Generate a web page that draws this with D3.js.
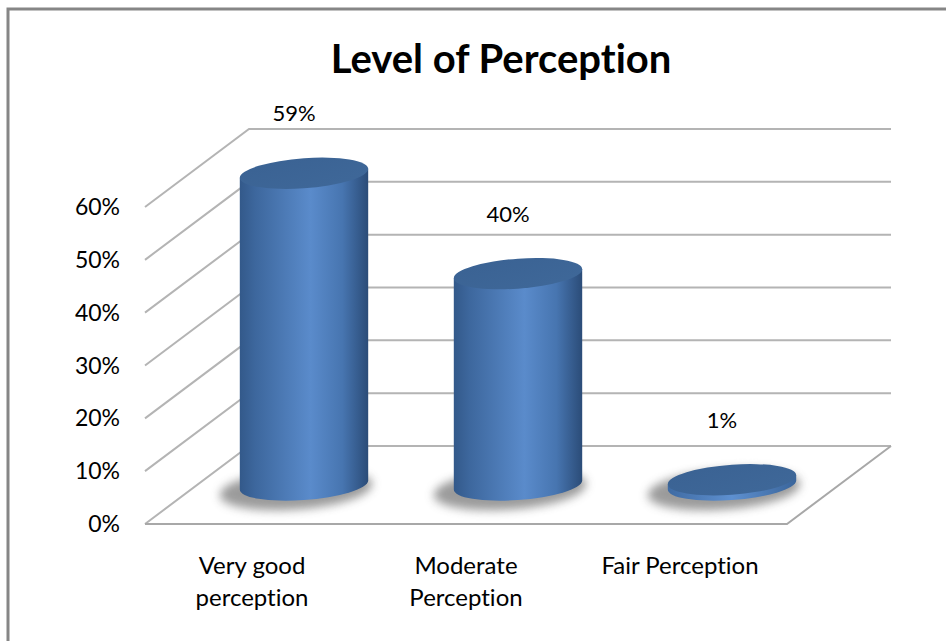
<!DOCTYPE html>
<html>
<head>
<meta charset="utf-8">
<script src="https://cdn.jsdelivr.net/npm/d3@7"></script>
<style>
  html, body { margin: 0; padding: 0; background: #fff; }
  svg { display: block; font-family: Lato, "Open Sans", sans-serif; font-variant-ligatures: none; }
</style>
</head>
<body>
<svg id="chart" width="946" height="641"></svg>
<script>
// chart data
const categories = ['Very good perception', 'Moderate Perception', 'Fair Perception'];
const categoryLines = [['Very good', 'perception'], ['Moderate', 'Perception'], ['Fair Perception']];
const values = [0.59, 0.40, 0.01];
const valueLabels = ['59%', '40%', '1%'];
const tickValues = [0, 0.1, 0.2, 0.3, 0.4, 0.5, 0.6];
const title = 'Level of Perception';

const svg = d3.select('#chart');
const W = 946, H = 641;

// outer frame (right & bottom edges fall outside the picture)
svg.append('rect')
  .attr('x', 8).attr('y', 9)
  .attr('width', W + 20).attr('height', H + 20)
  .attr('fill', '#fff')
  .attr('stroke', '#868686')
  .attr('stroke-width', 3);

// oblique 3D: depth offset of the back wall
const depthX = 104, depthY = -78;

const x = d3.scaleBand()
  .domain(categories)
  .range([145, 787]);

const y = d3.scaleLinear()
  .domain([0, 0.6])
  .range([524, 207]);

const defs = svg.append('defs');

// cylinder side shading
const bodyGrad = defs.append('linearGradient')
  .attr('id', 'bodyGrad')
  .attr('x1', '0%').attr('x2', '100%').attr('y1', '0%').attr('y2', '0%');
[[0, '#33598a'], [0.12, '#3d679d'], [0.55, '#5a8bcb'], [0.8, '#4775b0'], [1, '#2b4c78']]
  .forEach(s => bodyGrad.append('stop').attr('offset', s[0]).attr('stop-color', s[1]));

const topGrad = defs.append('linearGradient')
  .attr('id', 'topGrad')
  .attr('x1', '0%').attr('x2', '100%').attr('y1', '0%').attr('y2', '100%');
[[0, '#3a6293'], [1, '#3f6899']]
  .forEach(s => topGrad.append('stop').attr('offset', s[0]).attr('stop-color', s[1]));

const rimGrad = defs.append('linearGradient')
  .attr('id', 'rimGrad')
  .attr('x1', '0%').attr('x2', '100%');
[[0, '#3f6ba3'], [0.5, '#5e90d0'], [1, '#3a659b']]
  .forEach(s => rimGrad.append('stop').attr('offset', s[0]).attr('stop-color', s[1]));

defs.append('filter').attr('id', 'shadowBlur')
  .attr('x', '-50%').attr('y', '-100%').attr('width', '200%').attr('height', '300%')
  .append('feGaussianBlur').attr('stdDeviation', 5);

defs.append('filter').attr('id', 'soft')
  .append('feGaussianBlur').attr('stdDeviation', 0.5);

// gridlines: left side wall + back wall
const grid = svg.append('g')
  .attr('fill', 'none')
  .attr('stroke', '#b4b4b4')
  .attr('stroke-width', 2)
  .attr('filter', 'url(#soft)');

const x0 = x.range()[0], x1 = x.range()[1];

grid.selectAll('path.grid')
  .data(tickValues)
  .join('path')
  .attr('class', 'grid')
  .attr('d', t => `M${x0},${y(t)} L${x0 + depthX},${y(t) + depthY} L${x1 + depthX},${y(t) + depthY}`);

// floor outline
grid.append('path')
  .attr('stroke', '#a8a8a8')
  .attr('d', `M${x0},${y(0)} L${x1},${y(0)} L${x1 + depthX},${y(0) + depthY}`);

// y tick labels
svg.append('g')
  .selectAll('text')
  .data(tickValues)
  .join('text')
  .attr('x', 120)
  .attr('y', d => y(d))
  .attr('dy', '0.35em')
  .attr('text-anchor', 'end')
  .attr('font-size', 23)
  .attr('fill', '#000')
  .text(d => d3.format('.0%')(d));

// cylinders, sitting at mid depth
const rx = x.bandwidth() * 0.3;
const ry = 15;
const baseY = y(0) + depthY / 2;
const h = v => y(0) - y(v);

const bars = svg.append('g')
  .selectAll('g.bar')
  .data(categories.map((c, i) => ({ c, v: values[i], label: valueLabels[i] })))
  .join('g')
  .attr('class', 'bar')
  .attr('transform', d => `translate(${x(d.c) + x.bandwidth() / 2 + depthX / 2},${baseY}) skewY(-4)`);

bars.append('ellipse')
  .attr('cx', -8).attr('cy', 4)
  .attr('rx', rx + 12).attr('ry', ry + 5)
  .attr('fill', '#4a4a4a')
  .attr('opacity', 0.55)
  .attr('filter', 'url(#shadowBlur)');

bars.append('path')
  .attr('fill', d => h(d.v) < 10 ? 'url(#rimGrad)' : 'url(#bodyGrad)')
  .attr('d', d => {
    const t = -h(d.v);
    return `M${-rx},${t} L${-rx},0 A${rx},${ry} 0 0 0 ${rx},0 L${rx},${t} Z`;
  });

bars.append('ellipse')
  .attr('cx', 0)
  .attr('cy', d => -h(d.v))
  .attr('rx', rx).attr('ry', ry)
  .attr('fill', 'url(#topGrad)');

// value labels
svg.append('g')
  .selectAll('text')
  .data(categories)
  .join('text')
  .attr('x', (c, i) => x(c) + x.bandwidth() / 2 + depthX / 2 - 10)
  .attr('y', (c, i) => baseY - h(values[i]) - 52)
  .attr('text-anchor', 'middle')
  .attr('font-size', 22)
  .attr('fill', '#000')
  .text((c, i) => valueLabels[i]);

// category labels
const cat = svg.append('g')
  .selectAll('text')
  .data(categories)
  .join('text')
  .attr('x', c => x(c) + x.bandwidth() / 2)
  .attr('y', 574)
  .attr('text-anchor', 'middle')
  .attr('font-size', 24)
  .attr('fill', '#000');

cat.selectAll('tspan')
  .data((c, i) => categoryLines[i])
  .join('tspan')
  .attr('x', function () { return d3.select(this.parentNode).attr('x'); })
  .attr('dy', (d, j) => j === 0 ? 0 : 32)
  .text(d => d);

// title
svg.append('text')
  .attr('x', 501)
  .attr('y', 73)
  .attr('text-anchor', 'middle')
  .attr('font-size', 40)
  .attr('font-weight', 'bold')
  .attr('fill', '#000')
  .text(title);
</script>
</body>
</html>
